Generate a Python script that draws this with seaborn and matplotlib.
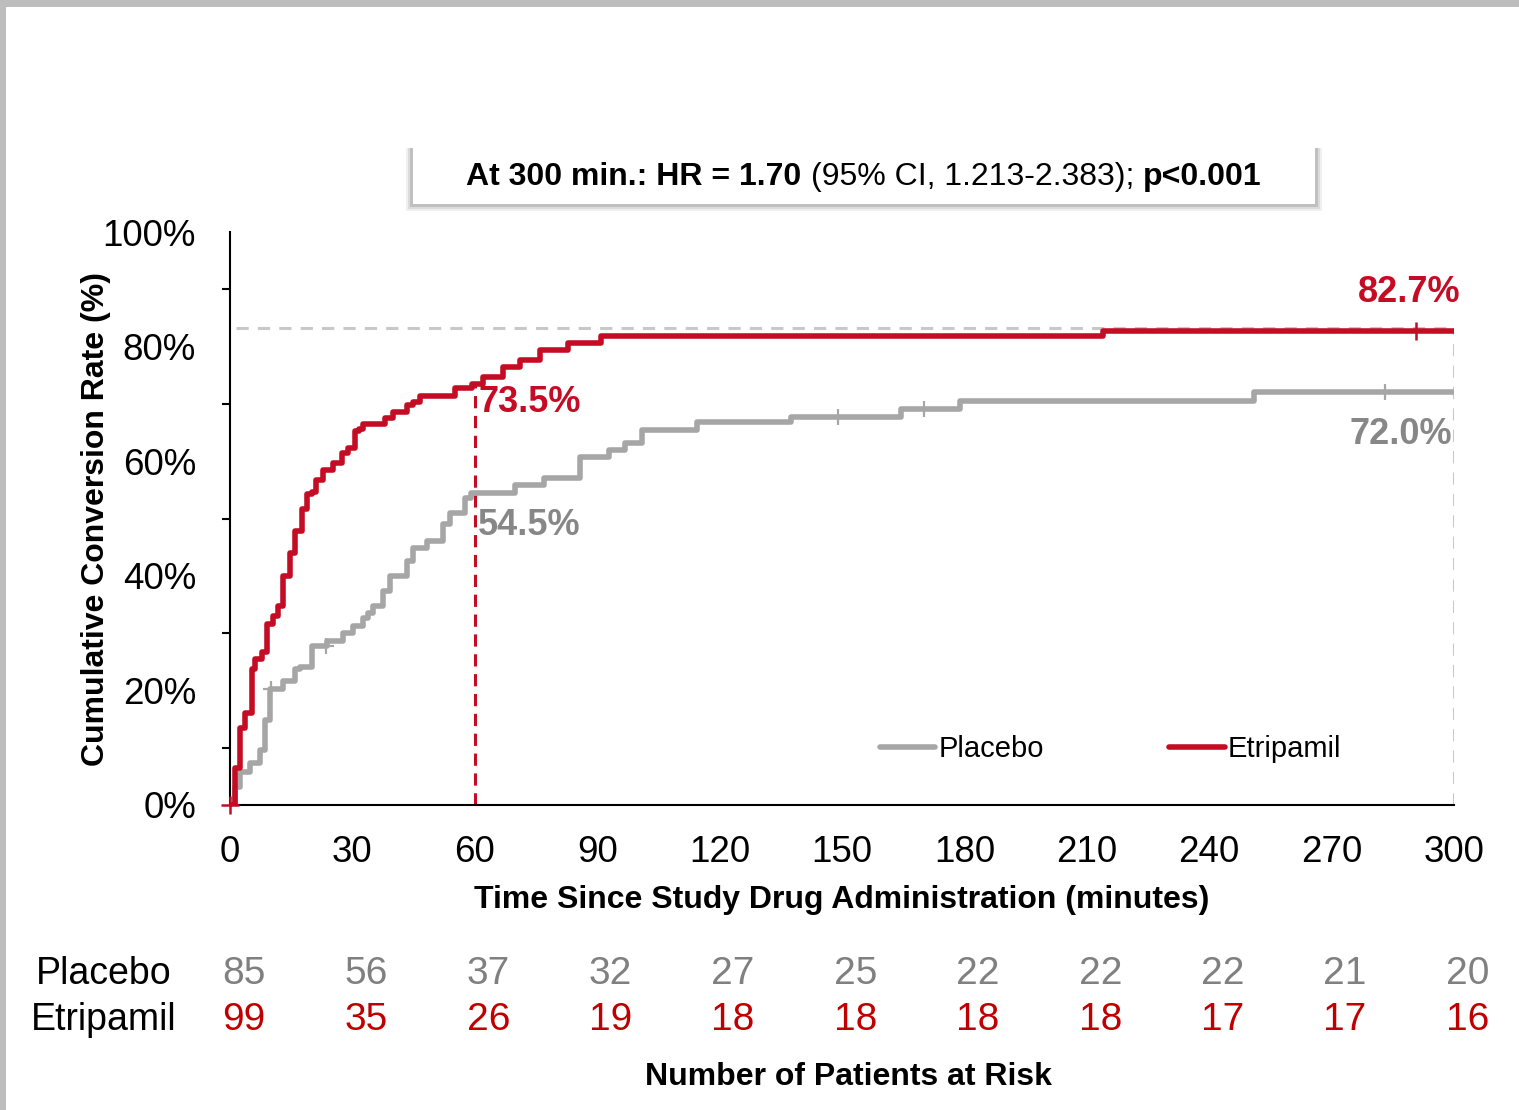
"""Etripamil vs Placebo: cumulative conversion rate (Kaplan-Meier style) with risk table."""

import matplotlib.pyplot as plt
import matplotlib.transforms as mtransforms
import numpy as np
import pandas as pd
import seaborn as sns
from matplotlib.patches import Rectangle

# ---- data ----
pla_time = [0, 1.2, 2.5, 4.9, 7.4, 8.6, 9.8, 13.1, 15.9, 17.2, 20.0, 23.7, 27.8,
            30.2, 32.7, 33.9, 35.1, 37.6, 39.2, 43.3, 44.9, 48.2, 52.3, 53.9,
            57.6, 59.0, 69.9, 77.0, 85.8, 93.0, 96.8, 101.0, 114.5, 137.5,
            164.5, 179.0, 251.0, 300]
pla_rate = [0, 3.1, 5.7, 7.3, 9.6, 14.8, 20.3, 21.6, 23.8, 24.1, 27.7, 28.7, 30.0,
            31.3, 32.6, 33.5, 34.8, 37.4, 40.0, 42.6, 44.9, 46.1, 49.1, 51.0,
            53.6, 54.5, 55.8, 57.0, 60.8, 62.0, 63.1, 65.4, 66.9, 67.8,
            69.1, 70.5, 72.0, 72.0]
etr_time = [0, 1.2, 2.5, 3.7, 5.3, 6.1, 7.8, 9.0, 10.6, 11.8, 13.1, 14.7, 15.9,
            17.6, 18.8, 20.0, 21.2, 22.9, 25.3, 27.4, 29.0, 30.6, 31.5, 32.7,
            38.0, 40.0, 43.3, 44.9, 46.6, 55.1, 59.2, 62.0, 67.0, 71.0, 76.0,
            82.8, 91.0, 214.0, 300]
etr_rate = [0, 6.5, 13.5, 16.0, 23.8, 25.4, 26.7, 31.6, 32.9, 34.8, 40.0, 43.9, 47.8,
            51.7, 54.2, 54.6, 56.8, 58.4, 59.7, 61.4, 62.3, 65.2, 65.7, 66.5,
            67.5, 68.6, 69.8, 70.4, 71.4, 72.7, 73.5, 74.7, 76.5, 77.7, 79.4,
            80.6, 81.8, 82.7, 82.7]
pla_censor = [10, 23.5, 149, 170, 283]
etr_censor = [0, 290.8]

risk_times = [0, 30, 60, 90, 120, 150, 180, 210, 240, 270, 300]
risk_placebo = [85, 56, 37, 32, 27, 25, 22, 22, 22, 21, 20]
risk_etripamil = [99, 35, 26, 19, 18, 18, 18, 18, 17, 17, 16]

RED = "#C40C24"
GRAY = "#A6A6A6"
GRAY_TXT = "#878787"


def step_value(times, rates, t):
    idx = np.searchsorted(times, t, side="right") - 1
    return rates[max(idx, 0)]


sns.set_style("white")
plt.rcParams["font.family"] = ["Liberation Sans", "DejaVu Sans"]
plt.rcParams.update({"text.color": "black", "axes.labelcolor": "black",
                     "xtick.color": "black", "ytick.color": "black"})

fig = plt.figure(figsize=(15.19, 11.10), dpi=100)
fig.patch.set_facecolor("#bdbdbd")
fig.add_artist(Rectangle((6 / 1519, 0), 1, 1 - 7 / 1110, transform=fig.transFigure,
                         facecolor="white", edgecolor="none", zorder=0))

ax = fig.add_axes([230 / 1519, 1 - 805 / 1110, 1224 / 1519, 573 / 1110])
ax.set_facecolor("none")

# reference dashed lines
ax.plot([1.5, 300], [83.3, 83.3], color="#c8c8c8", lw=2.2, dashes=(4, 3), zorder=1)
ax.plot([300, 300], [0, 83.3], color="#c8c8c8", lw=2.2, dashes=(4, 3), zorder=1)
ax.plot([60, 60], [0, 73.5], color=RED, lw=2.2, dashes=(4, 2.5), zorder=1)

df_p = pd.DataFrame({"time": pla_time, "rate": pla_rate})
df_e = pd.DataFrame({"time": etr_time, "rate": etr_rate})
sns.lineplot(data=df_p, x="time", y="rate", color=GRAY, lw=4.0, drawstyle="steps-post",
             estimator=None, label="Placebo", ax=ax, zorder=3)
sns.lineplot(data=df_e, x="time", y="rate", color=RED, lw=4.0, drawstyle="steps-post",
             estimator=None, label="Etripamil", ax=ax, zorder=4)

# censor marks
ax.plot(pla_censor, [step_value(pla_time, pla_rate, t) for t in pla_censor],
        ls="none", marker="+", ms=12, mew=1.6, color=GRAY, zorder=5, clip_on=False)
ax.plot(etr_censor, [step_value(etr_time, etr_rate, t) for t in etr_censor],
        ls="none", marker="+", ms=13, mew=1.8, color=RED, zorder=5, clip_on=False)

# value annotations
ax.text(60.8, 70.3, "73.5%", color=RED, fontsize=26, fontweight="bold", va="center", ha="left")
ax.text(60.8, 48.7, "54.5%", color=GRAY_TXT, fontsize=26, fontweight="bold", va="center", ha="left")
ax.text(301.5, 89.4, "82.7%", color=RED, fontsize=26, fontweight="bold", va="center", ha="right")
ax.text(299.5, 64.7, "72.0%", color=GRAY_TXT, fontsize=26, fontweight="bold", va="center", ha="right")

# axes styling
ax.set_xlim(0, 300)
ax.set_ylim(0, 100)
ax.set_xticks(risk_times)
ax.set_yticks(range(0, 101, 20))
ax.set_yticks(range(10, 100, 20), minor=True)
ax.set_yticklabels([f"{v}%" for v in range(0, 101, 20)])
ax.tick_params(axis="both", which="major", labelsize=26.5, length=8.5, width=1.5, color="black")
ax.tick_params(axis="y", which="major", pad=16)
ax.tick_params(axis="x", which="major", pad=13)
ax.tick_params(axis="y", which="minor", length=5.5, width=1.5, color="black", left=True)
sns.despine(ax=ax)
for side in ("left", "bottom"):
    ax.spines[side].set_linewidth(1.5)
    ax.spines[side].set_color("black")
ax.set_xlabel("Time Since Study Drug Administration (minutes)", fontsize=23,
              fontweight="bold", labelpad=11)
ax.set_ylabel("Cumulative Conversion Rate (%)", fontsize=23, fontweight="bold", labelpad=-6)

ax.legend(loc="center left", bbox_to_anchor=(0.531, 0.0977), ncol=2, frameon=False,
          fontsize=21, handlelength=1.9, handletextpad=0.1, columnspacing=4.3,
          borderpad=0, borderaxespad=0)

# risk table
blend = mtransforms.blended_transform_factory(ax.transData, fig.transFigure)
row_p, row_e = 1 - 974 / 1110, 1 - 1020 / 1110
fig.text(104 / 1519, row_p, "Placebo", fontsize=27, ha="center", va="center")
fig.text(104 / 1519, row_e, "Etripamil", fontsize=27, ha="center", va="center")
for t, n_p, n_e in zip(risk_times, risk_placebo, risk_etripamil):
    ax.text(t + 3.3, row_p, str(n_p), transform=blend, fontsize=28,
            color="#808080", ha="center", va="center")
    ax.text(t + 3.3, row_e, str(n_e), transform=blend, fontsize=28,
            color="#C00000", ha="center", va="center")
fig.text(848 / 1519, 1 - 1077 / 1110, "Number of Patients at Risk", fontsize=23,
         fontweight="bold", ha="center", va="center")

# HR box with soft shadow
bx0, bx1, by0, by1 = 413, 1315, 146, 204
for grow, alpha in [(7, 0.10), (5, 0.16), (3, 0.25)]:
    fig.add_artist(Rectangle(((bx0 - grow) / 1519, 1 - (by1 + grow) / 1110),
                             (bx1 - bx0 + 2 * grow) / 1519, (by1 - by0 + grow - 2) / 1110,
                             transform=fig.transFigure, facecolor="#707070",
                             edgecolor="none", alpha=alpha, zorder=1))
fig.add_artist(Rectangle((bx0 / 1519, 1 - by1 / 1110), (bx1 - bx0) / 1519,
                         (by1 - by0) / 1110, transform=fig.transFigure,
                         facecolor="white", edgecolor="none", zorder=2))
parts = [("At 300 min.: HR = 1.70 ", "bold"), ("(95% CI, 1.213-2.383); ", "normal"),
         ("p<0.001", "bold")]
renderer = fig.canvas.get_renderer()
texts = [fig.text(0, 1 - 177 / 1110, s, fontsize=23, fontweight=w, va="center",
                  ha="left", zorder=3) for s, w in parts]
widths = [t.get_window_extent(renderer).width for t in texts]
x = (bx0 + bx1) / 2 - sum(widths) / 2
for t, w in zip(texts, widths):
    t.set_x(x / 1519)
    x += w

fig.savefig("out.png", dpi=100)
